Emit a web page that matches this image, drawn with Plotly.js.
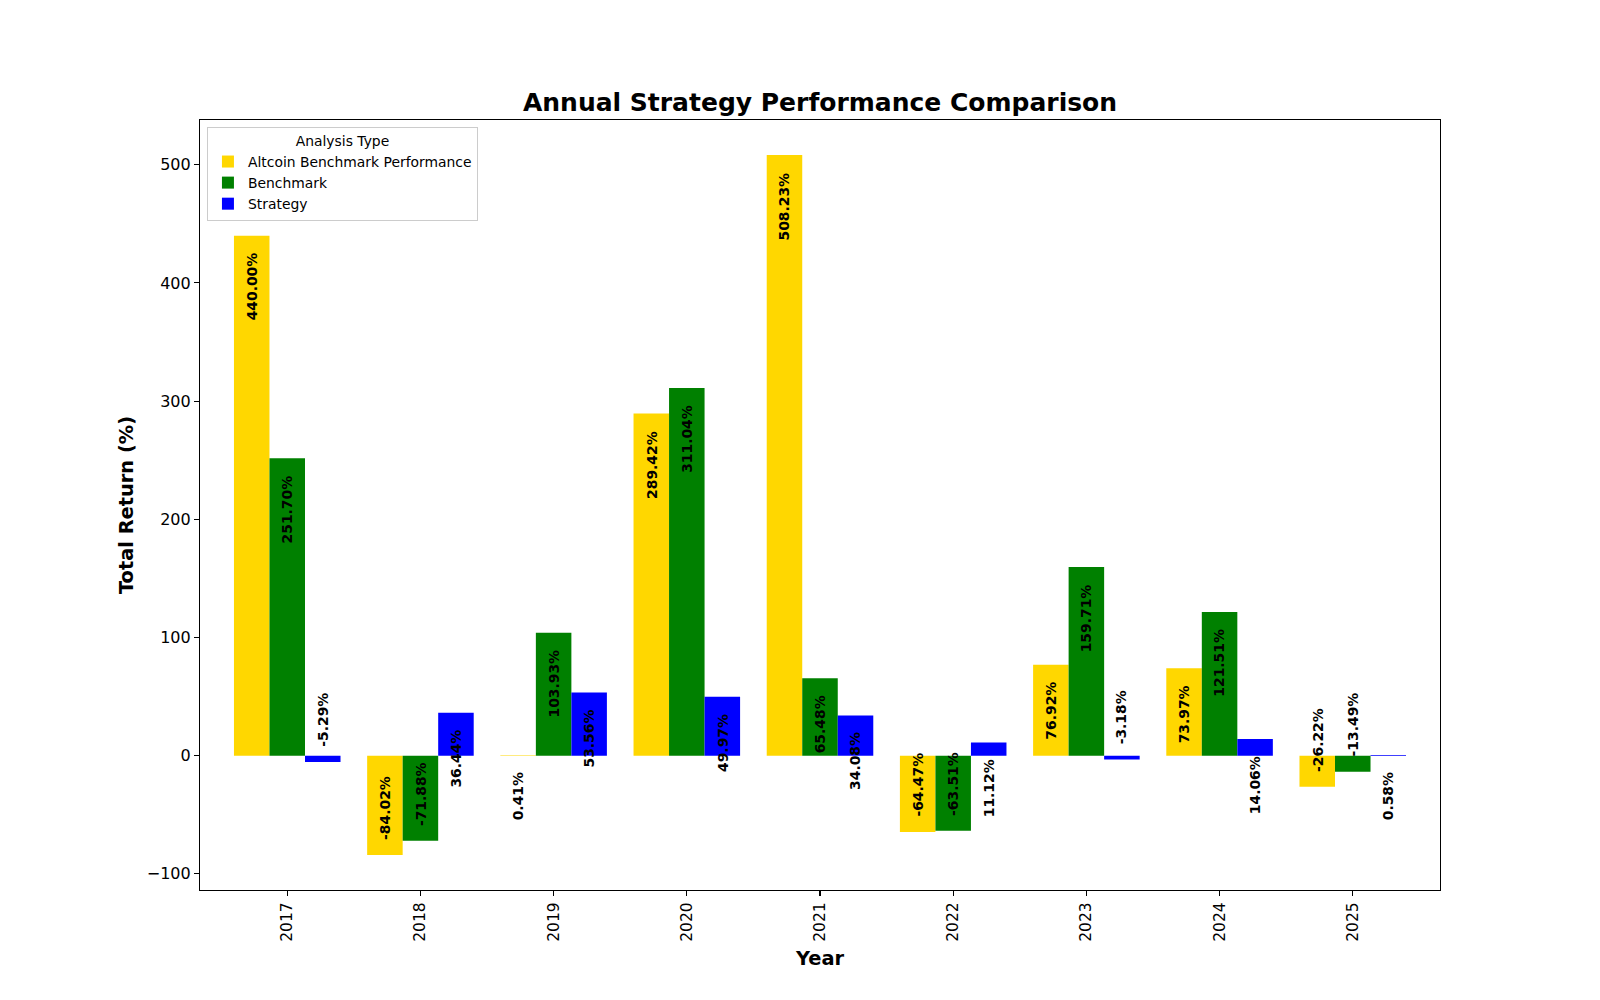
<!DOCTYPE html>
<html>
<head>
<meta charset="utf-8">
<script src="https://cdn.plot.ly/plotly-3.0.1.min.js"></script>
<style>
  html, body { margin: 0; padding: 0; background: #fff; }
  #chart { width: 1600px; height: 1000px; }
</style>
</head>
<body>
<div id="chart"></div>
<script>
// values
const years = ["2017", "2018", "2019", "2020", "2021", "2022", "2023", "2024", "2025"];
const altcoinReturns = [440.0, -84.02, 0.41, 289.42, 508.23, -64.47, 76.92, 73.97, -26.22];
const benchmarkReturns = [251.7, -71.88, 103.93, 311.04, 65.48, -63.51, 159.71, 121.51, -13.49];
const strategyReturns = [-5.29, 36.44, 53.56, 49.97, 34.08, 11.12, -3.18, 14.06, 0.58];

const seriesNames = ["Altcoin Benchmark Performance", "Benchmark", "Strategy"];
const seriesColors = ["#FFD700", "#008000", "#0000FF"];
const allSeries = [altcoinReturns, benchmarkReturns, strategyReturns];

const FONT = "DejaVu Sans, Liberation Sans, sans-serif";
const barWidth = 0.8 / 3;

const traces = allSeries.map((vals, i) => ({
  type: "bar",
  name: seriesNames[i],
  x: years,
  y: vals,
  marker: { color: seriesColors[i], line: { width: 0 } },
  hoverinfo: "skip",
}));

// rotated value labels, tucked in from the bar end towards zero
const annotations = [];
allSeries.forEach((vals, s) => {
  const offset = (s - 1) * barWidth;
  vals.forEach((v, i) => {
    const pos = v >= 0;
    annotations.push({
      x: i + offset,
      y: v,
      xref: "x",
      yref: "y",
      text: v.toFixed(2) + "%",
      showarrow: false,
      textangle: -90,
      xanchor: "center",
      yanchor: pos ? "top" : "bottom",
      yshift: pos ? -15 : 13,
      font: { family: FONT, size: 13.9, color: "#000", weight: "bold" },
    });
  });
});

const axisCommon = {
  showline: true,
  mirror: true,
  linecolor: "#000",
  linewidth: 1.1,
  ticks: "outside",
  ticklen: 5,
  tickwidth: 1.1,
  tickcolor: "#000",
  showgrid: false,
  zeroline: false,
};

const layout = {
  width: 1600,
  height: 1000,
  paper_bgcolor: "#fff",
  plot_bgcolor: "#fff",
  margin: { l: 200, r: 160, t: 120, b: 110, pad: 0 },
  font: { family: FONT, color: "#000" },
  barmode: "group",
  bargap: 0.2,
  bargroupgap: 0,
  title: {
    text: "<b>Annual Strategy Performance Comparison</b>",
    font: { family: FONT, size: 25, color: "#000" },
    x: 0.5125,
    xanchor: "center",
    xref: "container",
    yref: "container",
    y: 0.898,
    yanchor: "middle",
  },
  xaxis: Object.assign({}, axisCommon, {
    type: "category",
    range: [-0.655, 8.655],
    tickangle: -90,
    tickfont: { family: FONT, size: 15.5, color: "#000" },
    title: {
      text: "<b>Year</b>",
      font: { family: FONT, size: 19.4, color: "#000" },
      standoff: 10,
    },
    automargin: false,
  }),
  yaxis: Object.assign({}, axisCommon, {
    range: [-113.63, 537.84],
    tickvals: [-100, 0, 100, 200, 300, 400, 500],
    tickfont: { family: FONT, size: 16, color: "#000" },
    title: {
      text: "<b>Total Return (%)</b>",
      font: { family: FONT, size: 19.4, color: "#000" },
      standoff: 8,
    },
    automargin: false,
  }),
  showlegend: true,
  legend: {
    x: 0.0056,
    y: 0.991,
    xanchor: "left",
    yanchor: "top",
    bgcolor: "rgba(255,255,255,0.8)",
    bordercolor: "#cccccc",
    borderwidth: 1,
    font: { family: FONT, size: 13.9, color: "#000" },
    title: {
      text: "Analysis Type",
      side: "top center",
      font: { family: FONT, size: 13.9, color: "#000" },
    },
    traceorder: "normal",
  },
  annotations: annotations,
};

Plotly.newPlot("chart", traces, layout, { staticPlot: true });
</script>
</body>
</html>
